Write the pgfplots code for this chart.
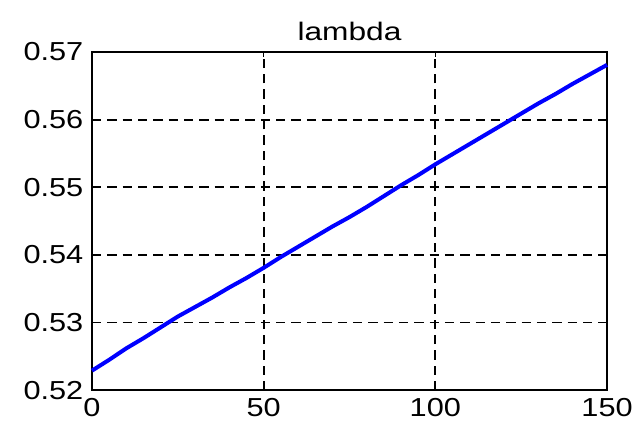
\documentclass[border=0pt]{standalone}
\usepackage{fontspec}
\setmainfont{Liberation Sans}
\newfontfamily\widefont[FakeStretch=1.18]{Liberation Sans}
\newfontfamily\titlefont[FakeStretch=1.25]{Liberation Sans}
\usepackage{pgfplots}
\pgfplotsset{compat=1.18}
\begin{document}
\begin{tikzpicture}
\begin{axis}[
  scale only axis,
  width=386pt, height=253.5pt,
  xmin=0, xmax=150, ymin=0.52, ymax=0.57,
  xtick={0,50,100,150},
  ytick={0.52,0.53,0.54,0.55,0.56,0.57},
  yticklabel style={/pgf/number format/fixed,/pgf/number format/precision=2,/pgf/number format/fixed zerofill},
  /pgf/number format/assume math mode=true,
  tick label style={font=\widefont\fontsize{19.5}{22}\selectfont},
  tick align=inside, major tick length=4pt,
  tick style={black, line width=1pt},
  axis line style={black, line width=1.5pt},
  grid=major,
  major grid style={black, dash pattern=on 7pt off 4.5pt, line width=1.3pt},
  title={lambda},
  title style={font=\titlefont\fontsize{19}{22}\selectfont, yshift=-1pt},
  xticklabel style={yshift=-2.5pt},
  yticklabel style={xshift=-3pt},
  clip=false,
]
\addplot[blue, line width=3pt] coordinates {
(0,0.5229) (5,0.5245) (10,0.5262) (15,0.5277) (20,0.5293) (25,0.5309)
(30,0.5323) (35,0.5337) (40,0.5352) (45,0.5366) (50,0.5381) (55,0.5397)
(60,0.5412) (65,0.5427) (70,0.5442) (75,0.5456) (80,0.5471) (85,0.5487)
(90,0.5503) (95,0.5518) (100,0.5534) (105,0.5549) (110,0.5564) (115,0.5579)
(120,0.5594) (125,0.5609) (130,0.5624) (135,0.5638) (140,0.5653) (145,0.5667)
(150,0.5681)
};
\path (axis description cs:-0.1786,-0.127) rectangle (axis description cs:1.064,1.1538);
\end{axis}
\end{tikzpicture}
\end{document}
